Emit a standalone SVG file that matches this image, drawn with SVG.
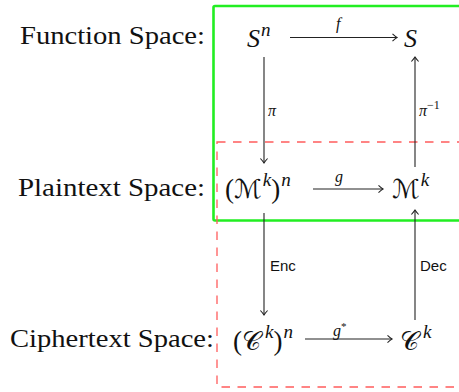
<svg xmlns="http://www.w3.org/2000/svg" width="459" height="392" viewBox="0 0 459 392">
<style>
.lbl{font-family:"Liberation Serif","DejaVu Serif",serif;font-size:26px;fill:#111}
.m{font-family:"Liberation Serif","DejaVu Serif",serif;font-style:italic;font-size:26px;fill:#111}
.cal{font-family:"DejaVu Serif","DejaVu Sans","Liberation Serif",serif;font-style:normal;font-size:26px;fill:#111}
.up{font-family:"Liberation Serif","DejaVu Serif",serif;font-style:normal;font-size:27px;fill:#111}
.sup{font-size:19px}
.al{font-family:"Liberation Serif","DejaVu Serif",serif;font-style:italic;font-size:16px;fill:#111}
.sf{font-family:"Liberation Sans","DejaVu Sans",sans-serif;font-size:15px;fill:#111}
.ar{stroke:#222;stroke-width:1.1;fill:none;marker-end:url(#ah)}
</style>
<defs>
<marker id="ah" markerUnits="userSpaceOnUse" markerWidth="12" markerHeight="12" viewBox="-6 -6 12 12" refX="0" refY="0" orient="auto">
<path d="M -4.5 -3.6 Q -1.6 -0.9 0 0 Q -1.6 0.9 -4.5 3.6" fill="none" stroke="#222" stroke-width="1.1"/>
</marker>
</defs>
<g id="frames">
<rect id="function-frame" x="213.5" y="6" width="260" height="214.5" rx="1.5" fill="none" stroke="#22ee22" stroke-width="2.6"/>
<rect id="plaintext-cipher-frame" x="217" y="142" width="260" height="245" fill="none" stroke="#ff5c5c" stroke-width="1.3" stroke-dasharray="8.5 7.5"/>
</g>
<g id="row-labels">
<text id="function-space" class="lbl" x="20" y="44" textLength="185" lengthAdjust="spacingAndGlyphs">Function Space:</text>
<text id="plaintext-space" class="lbl" x="18" y="196" textLength="187" lengthAdjust="spacingAndGlyphs">Plaintext Space:</text>
<text id="ciphertext-space" class="lbl" x="10" y="347" textLength="204" lengthAdjust="spacingAndGlyphs">Ciphertext Space:</text>
</g>
<g id="node-Sn"><text class="m" x="247" y="47">S<tspan class="sup" dy="-11" dx="1">n</tspan></text></g>
<g id="node-S"><text class="m" x="404" y="47">S</text></g>
<g id="node-Mkn"><text x="225" y="198"><tspan class="up">(</tspan><tspan class="cal">ℳ</tspan><tspan class="m sup" dy="-12" dx="1">k</tspan><tspan class="up" dy="12">)</tspan><tspan class="m sup" dy="-12" dx="1">n</tspan></text></g>
<g id="node-Mk"><text x="392" y="198"><tspan class="cal">ℳ</tspan><tspan class="m sup" dy="-12" dx="1">k</tspan></text></g>
<g id="node-Ckn"><text x="233" y="350"><tspan class="up">(</tspan><tspan class="cal">𝒞</tspan><tspan class="m sup" dy="-12" dx="4">k</tspan><tspan class="up" dy="12">)</tspan><tspan class="m sup" dy="-12" dx="1">n</tspan></text></g>
<g id="node-Ck"><text x="400" y="350"><tspan class="cal">𝒞</tspan><tspan class="m sup" dy="-12" dx="4">k</tspan></text></g>
<g id="connectors">
<line class="ar" x1="290" y1="37.5" x2="397" y2="37.5"/>
<text class="al" x="336" y="29">f</text>
<line class="ar" x1="264" y1="57" x2="264" y2="163"/>
<text class="al" x="268" y="116">π</text>
<line class="ar" x1="415" y1="167" x2="415" y2="57"/>
<text class="al" x="419" y="116">π<tspan font-size="12" font-style="normal" dy="-7">−1</tspan></text>
<line class="ar" x1="313" y1="189" x2="383" y2="189"/>
<text class="al" x="335" y="182">g</text>
<line class="ar" x1="264" y1="213" x2="264" y2="315"/>
<text class="sf" x="270" y="271">Enc</text>
<line class="ar" x1="415" y1="320" x2="415" y2="210"/>
<text class="sf" x="420" y="271">Dec</text>
<line class="ar" x1="305" y1="339" x2="392" y2="339"/>
<text class="al" x="333" y="336">g<tspan font-size="11" font-style="normal" dy="-6">*</tspan></text>
</g>
</svg>
